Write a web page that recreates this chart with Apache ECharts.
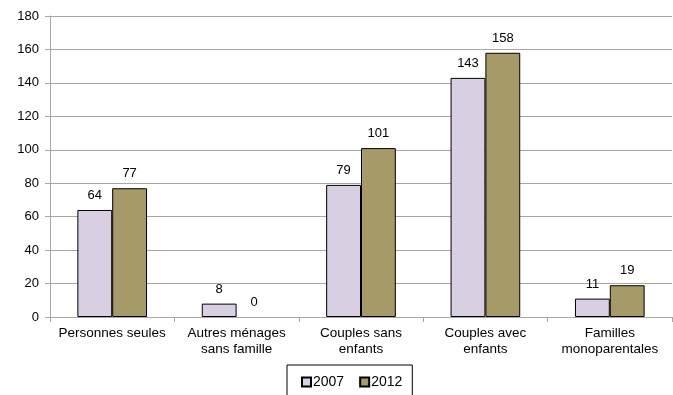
<!DOCTYPE html>
<html>
<head>
<meta charset="utf-8">
<script src="https://cdn.jsdelivr.net/npm/echarts@6/dist/echarts.min.js"></script>
<style>
  html, body { margin: 0; padding: 0; background: #fff; }
  #chart { width: 673px; height: 395px; }
</style>
</head>
<body>
<div id="chart"></div>
<script>
// Household types and counts for each survey year
const categories = [
  'Personnes seules',
  'Autres ménages\nsans famille',
  'Couples sans\nenfants',
  'Couples avec\nenfants',
  'Familles\nmonoparentales'
];
const years = ['2007', '2012'];
const values2007 = [64, 8, 79, 143, 11];
const values2012 = [77, 0, 101, 158, 19];
const yTicks = { min: 0, max: 180, interval: 20 };

const font = '"Liberation Sans", Arial, sans-serif';
const gridColor = '#a6a6a6';

const barLabel = {
  show: true,
  position: 'top',
  distance: 8,
  color: '#000',
  fontSize: 13,
  fontFamily: font
};

// A zero-height bar keeps its label but gets no outline
const toBarData = vals => vals.map(v => v === 0
  ? { value: v, itemStyle: { borderWidth: 0 } }
  : v);

const chart = echarts.init(document.getElementById('chart'), null, { renderer: 'canvas' });
chart.setOption({
  animation: false,
  backgroundColor: '#fff',
  grid: { left: 50, right: 1, top: 16, bottom: 78, containLabel: false },
  legend: {
    data: years,
    icon: 'rect',
    left: 287,
    top: 365,
    itemWidth: 9,
    itemHeight: 9,
    itemGap: 15,
    padding: [10, 10, 12, 14],
    borderColor: '#000',
    borderWidth: 1,
    textStyle: { fontSize: 14, color: '#000', fontFamily: font, padding: [0, 0, 0, -3] }
  },
  xAxis: {
    type: 'category',
    data: categories,
    axisLine: { lineStyle: { color: gridColor, width: 1 } },
    axisTick: { show: true, length: 5, lineStyle: { color: gridColor } },
    axisLabel: { color: '#000', fontSize: 13.5, fontFamily: font, lineHeight: 16, margin: 8, interval: 0 }
  },
  yAxis: {
    type: 'value',
    min: yTicks.min,
    max: yTicks.max,
    interval: yTicks.interval,
    axisLine: { show: true, lineStyle: { color: gridColor, width: 1 } },
    axisTick: { show: true, length: 5, lineStyle: { color: gridColor } },
    axisLabel: { color: '#000', fontSize: 13, fontFamily: font, margin: 11 },
    splitLine: { show: true, lineStyle: { color: gridColor, width: 1 } }
  },
  series: [
    {
      name: years[0],
      type: 'bar',
      data: toBarData(values2007),
      barWidth: '28%',
      barGap: '0%',
      itemStyle: { color: '#d8cfe3', borderColor: '#000', borderWidth: 1 },
      label: barLabel
    },
    {
      name: years[1],
      type: 'bar',
      data: toBarData(values2012),
      barWidth: '28%',
      itemStyle: { color: '#a69a69', borderColor: '#000', borderWidth: 1 },
      label: barLabel
    }
  ]
});
</script>
</body>
</html>
